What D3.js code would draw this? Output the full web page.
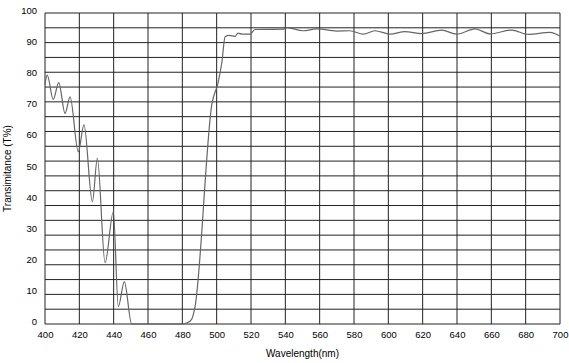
<!DOCTYPE html>
<html>
<head>
<meta charset="utf-8">
<script src="https://cdn.jsdelivr.net/npm/d3@7"></script>
<style>
  body { margin: 0; background: #fff; }
  text { font-family: "Liberation Sans", Arial, sans-serif; }
</style>
</head>
<body>
<svg id="chart"></svg>
<script>
// transmittance curve (nm, %)
let wavelength = [400, 401.3, 404.8, 408, 411.7, 414.6, 419.4, 422.7, 427.6, 430.5,
  435, 439.8, 442.7, 446.2, 450.5, 479.6, 482.7, 485.4, 487.4, 497.3,
  500.8, 503, 504.9, 507.2, 510.7, 512.4, 514.7, 519.4, 522.3, 538.6,
  540.8, 550.3, 558.3, 569.9, 577.7, 585.4, 592.2, 601, 609.7, 619.4,
  631.1, 639.8, 650.5, 659.2, 671.8, 681.5, 694.2, 700];
let transmittance = [77, 80, 72.2, 77.6, 67.7, 73, 55.4, 64, 39.3, 53.3,
  19.7, 36.1, 5.6, 13.6, 0, 0, 0.4, 1.5, 5.6, 71,
  77.5, 84, 92.4, 92.8, 92.5, 93.5, 93.2, 93.2, 94.7, 94.8,
  95.3, 94.3, 94.9, 94.2, 94.3, 93.2, 94.3, 93.2, 94, 93.4,
  94.5, 93.2, 94.9, 93.3, 94.5, 93.1, 93.8, 92.6];

let xTicks = d3.range(400, 701, 20);
let yTicks = d3.range(0, 101, 10);
let gridRows = 21; // the picture has 21 bands between 0 and 100

let canvas = {"width": 569, "height": 363,
  "marginLeft": 45, "marginRight": 9, "marginTop": 13, "marginBottom": 39};

let svg = d3.select("#chart")
  .attr("width", canvas.width)
  .attr("height", canvas.height);

let xScale = d3.scaleLinear()
  .domain([400, 700])
  .range([canvas.marginLeft, canvas.width - canvas.marginRight]);

let yScale = d3.scaleLinear()
  .domain([0, 100])
  .range([canvas.height - canvas.marginBottom, canvas.marginTop]);

let gridScale = d3.scaleLinear()
  .domain([0, gridRows])
  .range(yScale.range());

// vertical grid
svg.selectAll(".vgrid")
  .data(xTicks)
  .join("line")
  .attr("class", "vgrid")
  .attr("x1", d => xScale(d))
  .attr("x2", d => xScale(d))
  .attr("y1", yScale(100))
  .attr("y2", yScale(0))
  .attr("stroke", "#222")
  .attr("stroke-width", 1);

// horizontal grid
svg.selectAll(".hgrid")
  .data(d3.range(0, gridRows + 1))
  .join("line")
  .attr("class", "hgrid")
  .attr("x1", xScale(400))
  .attr("x2", xScale(700))
  .attr("y1", d => gridScale(d))
  .attr("y2", d => gridScale(d))
  .attr("stroke", "#222")
  .attr("stroke-width", 1);

let points = wavelength.map((w, i) => [w, transmittance[i]]);

let line = d3.line()
  .x(d => xScale(d[0]))
  .y(d => yScale(d[1]))
  .curve(d3.curveMonotoneX);

svg.append("path")
  .datum(points)
  .attr("d", line)
  .attr("fill", "none")
  .attr("stroke", "#666")
  .attr("stroke-width", 1.2);

// axes labels
let xAxis = d3.axisBottom(xScale).tickValues(xTicks).tickSize(0).tickPadding(7);
let gx = svg.append("g")
  .attr("transform", `translate(0, ${yScale(0)})`)
  .call(xAxis);
gx.select(".domain").remove();
gx.selectAll("text").attr("font-size", 9.5).attr("fill", "#000")
  .style("font-family", "'Liberation Sans', Arial, sans-serif");

let yAxis = d3.axisLeft(yScale).tickValues(yTicks).tickSize(0).tickPadding(8);
let gy = svg.append("g")
  .attr("transform", `translate(${xScale(400)}, -2.5)`)
  .call(yAxis);
gy.select(".domain").remove();
gy.selectAll("text").attr("font-size", 9.5).attr("fill", "#000")
  .style("font-family", "'Liberation Sans', Arial, sans-serif");

svg.append("text")
  .attr("x", (xScale(400) + xScale(700)) / 2)
  .attr("y", 357)
  .attr("text-anchor", "middle")
  .attr("font-size", 10)
  .text("Wavelength(nm)");

svg.append("text")
  .attr("transform", `translate(11, ${(yScale(0) + yScale(100)) / 2}) rotate(-90)`)
  .attr("text-anchor", "middle")
  .attr("font-size", 10)
  .text("Transimitance (T%)");
</script>
</body>
</html>
